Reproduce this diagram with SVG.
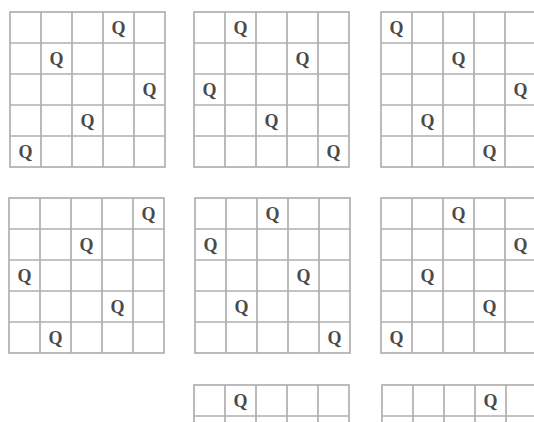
<svg xmlns="http://www.w3.org/2000/svg" xmlns:xlink="http://www.w3.org/1999/xlink" width="534" height="422" viewBox="0 0 534 422">
<style>
.ln{fill:none;stroke:#b0b0b0;stroke-width:1.7}
.q{font-family:"Liberation Serif","Times New Roman",serif;font-weight:bold;font-size:18px;fill:#4a4a4a;text-anchor:middle}
</style>
<defs>
<g id="board">
<rect class="ln" x="0" y="0" width="155" height="155"/>
<path class="ln" d="M31 0V155M62 0V155M93 0V155M124 0V155M0 31H155M0 62H155M0 93H155M0 124H155"/>
</g>
</defs>
<rect width="534" height="422" fill="#ffffff"/>
<g id="board1" transform="translate(10,12)">
<use xlink:href="#board"/>
<text class="q" x="108.5" y="22">Q</text>
<text class="q" x="46.5" y="53">Q</text>
<text class="q" x="139.5" y="84">Q</text>
<text class="q" x="77.5" y="115">Q</text>
<text class="q" x="15.5" y="146">Q</text>
</g>
<g id="board2" transform="translate(194,12)">
<use xlink:href="#board"/>
<text class="q" x="46.5" y="22">Q</text>
<text class="q" x="108.5" y="53">Q</text>
<text class="q" x="15.5" y="84">Q</text>
<text class="q" x="77.5" y="115">Q</text>
<text class="q" x="139.5" y="146">Q</text>
</g>
<g id="board3" transform="translate(381,12)">
<use xlink:href="#board"/>
<text class="q" x="15.5" y="22">Q</text>
<text class="q" x="77.5" y="53">Q</text>
<text class="q" x="139.5" y="84">Q</text>
<text class="q" x="46.5" y="115">Q</text>
<text class="q" x="108.5" y="146">Q</text>
</g>
<g id="board4" transform="translate(9,198)">
<use xlink:href="#board"/>
<text class="q" x="139.5" y="22">Q</text>
<text class="q" x="77.5" y="53">Q</text>
<text class="q" x="15.5" y="84">Q</text>
<text class="q" x="108.5" y="115">Q</text>
<text class="q" x="46.5" y="146">Q</text>
</g>
<g id="board5" transform="translate(195,198)">
<use xlink:href="#board"/>
<text class="q" x="77.5" y="22">Q</text>
<text class="q" x="15.5" y="53">Q</text>
<text class="q" x="108.5" y="84">Q</text>
<text class="q" x="46.5" y="115">Q</text>
<text class="q" x="139.5" y="146">Q</text>
</g>
<g id="board6" transform="translate(381,198)">
<use xlink:href="#board"/>
<text class="q" x="77.5" y="22">Q</text>
<text class="q" x="139.5" y="53">Q</text>
<text class="q" x="46.5" y="84">Q</text>
<text class="q" x="108.5" y="115">Q</text>
<text class="q" x="15.5" y="146">Q</text>
</g>
<g id="board7" transform="translate(194,385)">
<use xlink:href="#board"/>
<text class="q" x="46.5" y="22">Q</text>
</g>
<g id="board8" transform="translate(382,385)">
<use xlink:href="#board"/>
<text class="q" x="108.5" y="22">Q</text>
</g>
</svg>
